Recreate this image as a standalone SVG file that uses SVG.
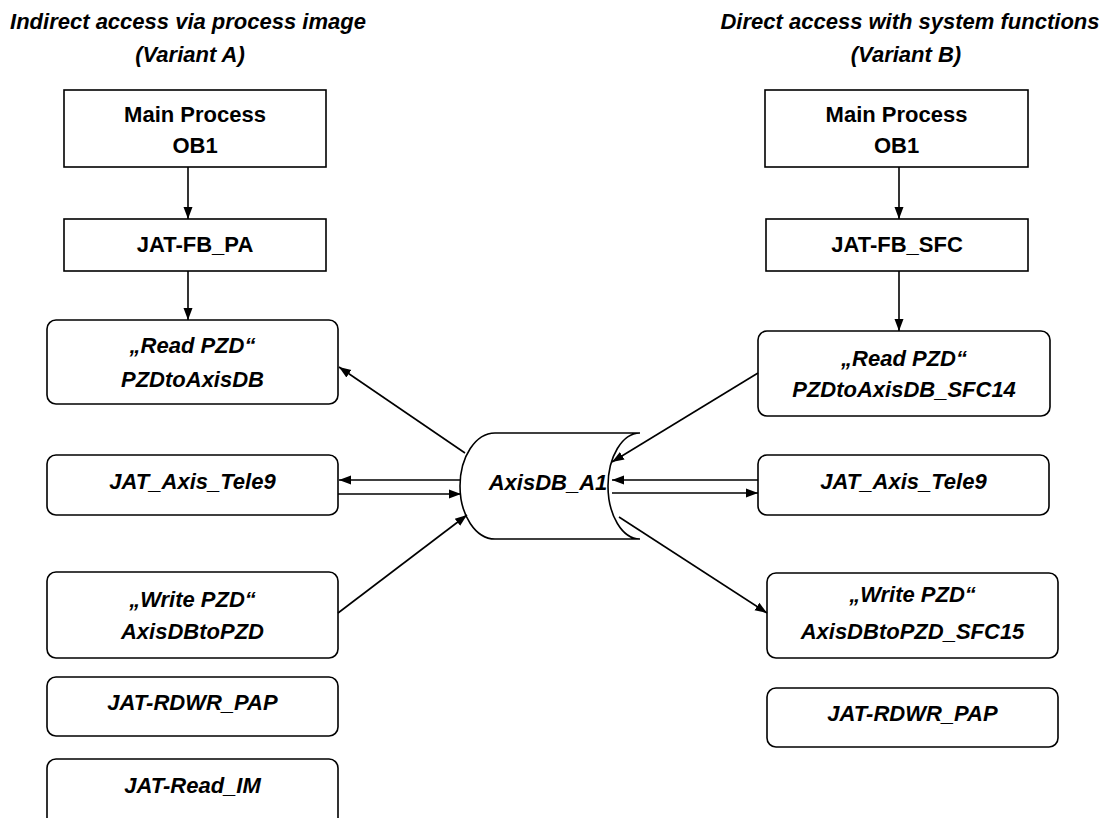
<svg xmlns="http://www.w3.org/2000/svg" width="1108" height="818" viewBox="0 0 1108 818">
<style>
text{font-family:"Liberation Sans",Arial,sans-serif;font-weight:bold;fill:#000;text-anchor:middle}
.t{font-size:22px;font-style:italic}
.b{font-size:22px}
.i{font-size:22px;font-style:italic}
.box{fill:#fff;stroke:#000;stroke-width:1.6}
.c{fill:none;stroke:#000;stroke-width:1.6;marker-end:url(#ah)}
</style>
<defs>
<marker id="ah" viewBox="0 0 12 12" refX="12" refY="6" markerWidth="12" markerHeight="12" markerUnits="userSpaceOnUse" orient="auto">
<path d="M0,1.5 L12,6 L0,10.5 Z" fill="#000"/>
</marker>
</defs>
<rect width="1108" height="818" fill="#fff"/>
<g id="titleA">
<text class="t" x="188" y="29">Indirect access via process image</text>
<text class="t" x="190" y="62">(Variant A)</text>
</g>
<g id="titleB">
<text class="t" x="910" y="29">Direct access with system functions</text>
<text class="t" x="906" y="62">(Variant B)</text>
</g>
<g id="mainA"><rect class="box" x="64" y="90" width="262" height="77"/><text class="b" x="195" y="122">Main Process</text><text class="b" x="195" y="153">OB1</text></g>
<g id="fbpa"><rect class="box" x="64" y="219" width="262" height="52"/><text class="b" x="195" y="252">JAT-FB_PA</text></g>
<g id="readA"><rect class="box" x="47" y="320" width="291" height="84" rx="9"/><text class="i" x="192.5" y="353">„Read PZD“</text><text class="i" x="192.5" y="387">PZDtoAxisDB</text></g>
<g id="teleA"><rect class="box" x="47" y="455" width="291" height="60" rx="9"/><text class="i" x="192.5" y="489">JAT_Axis_Tele9</text></g>
<g id="writeA"><rect class="box" x="47" y="572" width="291" height="86" rx="9"/><text class="i" x="192.5" y="607">„Write PZD“</text><text class="i" x="192.5" y="639">AxisDBtoPZD</text></g>
<g id="rdwrA"><rect class="box" x="47" y="677" width="291" height="59" rx="9"/><text class="i" x="192.5" y="710">JAT-RDWR_PAP</text></g>
<g id="readim"><rect class="box" x="47" y="759" width="291" height="70" rx="9"/><text class="i" x="192.5" y="793">JAT-Read_IM</text></g>
<g id="axisdb"><path class="box" d="M495,433 L640,433 A32,53 0 0 0 640,539 L495,539 A35,53 0 0 1 495,433 Z"/><text class="i" x="548" y="490">AxisDB_A1</text></g>
<g id="mainB"><rect class="box" x="765" y="90" width="263" height="77"/><text class="b" x="896.5" y="122">Main Process</text><text class="b" x="896.5" y="153">OB1</text></g>
<g id="fbsfc"><rect class="box" x="766" y="219" width="262" height="52"/><text class="b" x="897" y="252">JAT-FB_SFC</text></g>
<g id="readB"><rect class="box" x="758" y="331" width="292" height="85" rx="9"/><text class="i" x="904" y="366">„Read PZD“</text><text class="i" x="904" y="397">PZDtoAxisDB_SFC14</text></g>
<g id="teleB"><rect class="box" x="758" y="455" width="291" height="60" rx="9"/><text class="i" x="903.5" y="489">JAT_Axis_Tele9</text></g>
<g id="writeB"><rect class="box" x="767" y="573" width="291" height="85" rx="9"/><text class="i" x="912.5" y="602">„Write PZD“</text><text class="i" x="912.5" y="639">AxisDBtoPZD_SFC15</text></g>
<g id="rdwrB"><rect class="box" x="767" y="688" width="291" height="59" rx="9"/><text class="i" x="912.5" y="721">JAT-RDWR_PAP</text></g>
<g id="connectors">
<line class="c" x1="188" y1="167" x2="188" y2="219"/>
<line class="c" x1="188" y1="271" x2="188" y2="320"/>
<line class="c" x1="465" y1="453" x2="339" y2="367"/>
<line class="c" x1="461" y1="480" x2="339" y2="480"/>
<line class="c" x1="338" y1="494" x2="461" y2="494"/>
<line class="c" x1="338" y1="613" x2="467" y2="515"/>
<line class="c" x1="899" y1="167" x2="899" y2="219"/>
<line class="c" x1="899" y1="271" x2="899" y2="331"/>
<line class="c" x1="758" y1="373" x2="612" y2="462"/>
<line class="c" x1="758" y1="480" x2="612" y2="480"/>
<line class="c" x1="612" y1="493" x2="758" y2="493"/>
<line class="c" x1="619" y1="517" x2="767" y2="613"/>
</g>
</svg>
